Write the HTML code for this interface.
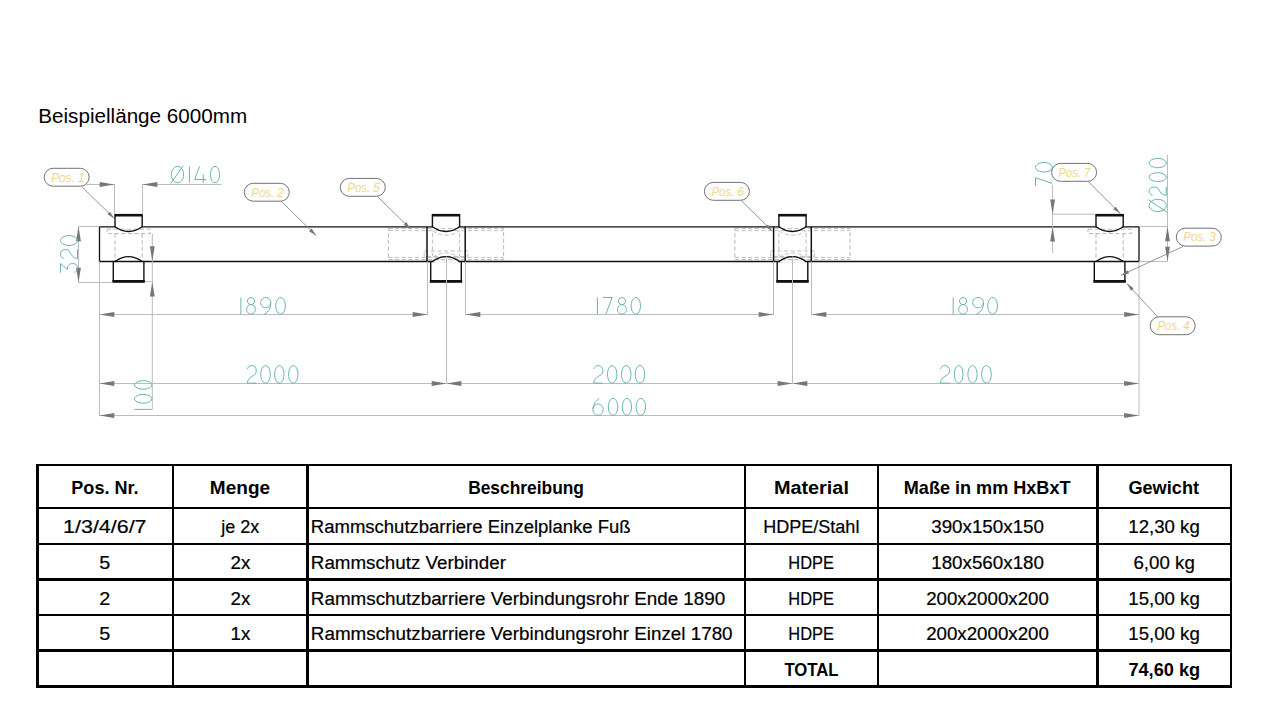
<!DOCTYPE html>
<html><head><meta charset="utf-8"><title>Rammschutzbarriere</title>
<style>
html,body{margin:0;padding:0;background:#fff;}
body{width:1273px;height:711px;overflow:hidden;position:relative;font-family:"Liberation Sans",sans-serif;}
svg{position:absolute;left:0;top:0;}
</style></head><body>
<svg width="1273" height="711" viewBox="0 0 1273 711">
<rect width="1273" height="711" fill="#fff"/>
<rect x="107.00" y="229.2" width="43.3" height="4.4" fill="none" stroke="#b0b0b0" stroke-width="0.9" stroke-dasharray="4.2,2.4"/><line x1="115.0" y1="233.6" x2="115.0" y2="261.5" stroke="#b0b0b0" stroke-width="0.9" stroke-dasharray="4.2,2.4"/><line x1="142.2" y1="233.6" x2="142.2" y2="261.5" stroke="#b0b0b0" stroke-width="0.9" stroke-dasharray="4.2,2.4"/><rect x="1088.00" y="229.2" width="43.3" height="4.4" fill="none" stroke="#b0b0b0" stroke-width="0.9" stroke-dasharray="4.2,2.4"/><line x1="1096.0" y1="233.6" x2="1096.0" y2="261.5" stroke="#b0b0b0" stroke-width="0.9" stroke-dasharray="4.2,2.4"/><line x1="1123.1999999999998" y1="233.6" x2="1123.1999999999998" y2="261.5" stroke="#b0b0b0" stroke-width="0.9" stroke-dasharray="4.2,2.4"/><rect x="388.40" y="228.4" width="115.2" height="31.2" fill="none" stroke="#b0b0b0" stroke-width="0.9" stroke-dasharray="4.2,2.4"/><line x1="388.4" y1="230.6" x2="503.6" y2="230.6" stroke="#b0b0b0" stroke-width="0.8" stroke-dasharray="4.2,2.4"/><line x1="388.4" y1="257.4" x2="503.6" y2="257.4" stroke="#b0b0b0" stroke-width="0.8" stroke-dasharray="4.2,2.4"/><rect x="424.20" y="251.0" width="43.6" height="5.4" fill="none" stroke="#b0b0b0" stroke-width="0.8" stroke-dasharray="4.2,2.4"/><line x1="432.4" y1="233" x2="432.4" y2="256" stroke="#b0b0b0" stroke-width="0.8" stroke-dasharray="4.2,2.4"/><line x1="459.6" y1="233" x2="459.6" y2="256" stroke="#b0b0b0" stroke-width="0.8" stroke-dasharray="4.2,2.4"/><path d="M432.40,230.8 Q446.00,239.8 459.60,230.8" fill="none" stroke="#b0b0b0" stroke-width="0.8" stroke-dasharray="4.2,2.4"/><path d="M432.40,257.5 Q446.00,248.5 459.60,257.5" fill="none" stroke="#b0b0b0" stroke-width="0.8" stroke-dasharray="4.2,2.4"/><rect x="734.90" y="228.4" width="115.2" height="31.2" fill="none" stroke="#b0b0b0" stroke-width="0.9" stroke-dasharray="4.2,2.4"/><line x1="734.9" y1="230.6" x2="850.1" y2="230.6" stroke="#b0b0b0" stroke-width="0.8" stroke-dasharray="4.2,2.4"/><line x1="734.9" y1="257.4" x2="850.1" y2="257.4" stroke="#b0b0b0" stroke-width="0.8" stroke-dasharray="4.2,2.4"/><rect x="770.70" y="251.0" width="43.6" height="5.4" fill="none" stroke="#b0b0b0" stroke-width="0.8" stroke-dasharray="4.2,2.4"/><line x1="778.9" y1="233" x2="778.9" y2="256" stroke="#b0b0b0" stroke-width="0.8" stroke-dasharray="4.2,2.4"/><line x1="806.1" y1="233" x2="806.1" y2="256" stroke="#b0b0b0" stroke-width="0.8" stroke-dasharray="4.2,2.4"/><path d="M778.90,230.8 Q792.50,239.8 806.10,230.8" fill="none" stroke="#b0b0b0" stroke-width="0.8" stroke-dasharray="4.2,2.4"/><path d="M778.90,257.5 Q792.50,248.5 806.10,257.5" fill="none" stroke="#b0b0b0" stroke-width="0.8" stroke-dasharray="4.2,2.4"/><path d="M99.5,226.8 L1139.0,226.8 L1139.0,261.5 L99.5,261.5 Z" fill="none" stroke="#111111" stroke-width="1.3"/><line x1="427.0" y1="226.8" x2="427.0" y2="261.5" stroke="#111111" stroke-width="1.5" /><line x1="465.2" y1="226.8" x2="465.2" y2="261.5" stroke="#111111" stroke-width="1.5" /><line x1="773.6" y1="226.8" x2="773.6" y2="261.5" stroke="#111111" stroke-width="1.5" /><line x1="811.3" y1="226.8" x2="811.3" y2="261.5" stroke="#111111" stroke-width="1.5" /><rect x="115.90" y="225.60000000000002" width="25.40" height="2.4" fill="#fff"/><rect x="433.30" y="225.60000000000002" width="25.40" height="2.4" fill="#fff"/><rect x="779.80" y="225.60000000000002" width="25.40" height="2.4" fill="#fff"/><rect x="1096.90" y="225.60000000000002" width="25.40" height="2.4" fill="#fff"/><rect x="433.60" y="260.3" width="24.80" height="2.4" fill="#fff"/><rect x="780.10" y="260.3" width="24.80" height="2.4" fill="#fff"/><path d="M115.00,226.8 L115.00,214.6 L142.20,214.6 L142.20,226.8 Q128.60,236.3 115.00,226.8" fill="none" stroke="#111111" stroke-width="1.4"/><rect x="114.70" y="213.9" width="27.80" height="2.6" fill="#111111"/><path d="M113.30,261.5 L113.30,281.4 L143.90,281.4 L143.90,261.5" fill="none" stroke="#111111" stroke-width="1.4"/><path d="M115.00,261.5 Q128.60,251.7 142.20,261.5" fill="none" stroke="#111111" stroke-width="1.4"/><rect x="112.40" y="280.0" width="32.40" height="2.8" fill="#111111"/><path d="M432.40,226.8 L432.40,214.6 L459.60,214.6 L459.60,226.8 Q446.00,236.3 432.40,226.8" fill="none" stroke="#111111" stroke-width="1.4"/><rect x="432.10" y="213.9" width="27.80" height="2.6" fill="#111111"/><path d="M430.70,261.5 L430.70,281.4 L461.30,281.4 L461.30,261.5" fill="none" stroke="#111111" stroke-width="1.4"/><path d="M432.40,261.5 Q446.00,251.7 459.60,261.5" fill="none" stroke="#111111" stroke-width="1.4"/><rect x="429.80" y="280.0" width="32.40" height="2.8" fill="#111111"/><path d="M778.90,226.8 L778.90,214.6 L806.10,214.6 L806.10,226.8 Q792.50,236.3 778.90,226.8" fill="none" stroke="#111111" stroke-width="1.4"/><rect x="778.60" y="213.9" width="27.80" height="2.6" fill="#111111"/><path d="M777.20,261.5 L777.20,281.4 L807.80,281.4 L807.80,261.5" fill="none" stroke="#111111" stroke-width="1.4"/><path d="M778.90,261.5 Q792.50,251.7 806.10,261.5" fill="none" stroke="#111111" stroke-width="1.4"/><rect x="776.30" y="280.0" width="32.40" height="2.8" fill="#111111"/><path d="M1096.00,226.8 L1096.00,214.6 L1123.20,214.6 L1123.20,226.8 Q1109.60,236.3 1096.00,226.8" fill="none" stroke="#111111" stroke-width="1.4"/><rect x="1095.70" y="213.9" width="27.80" height="2.6" fill="#111111"/><path d="M1094.30,261.5 L1094.30,281.4 L1124.90,281.4 L1124.90,261.5" fill="none" stroke="#111111" stroke-width="1.4"/><path d="M1096.00,261.5 Q1109.60,251.7 1123.20,261.5" fill="none" stroke="#111111" stroke-width="1.4"/><rect x="1093.40" y="280.0" width="32.40" height="2.8" fill="#111111"/><line x1="99.5" y1="261.5" x2="99.5" y2="416.0" stroke="#bcbcbc" stroke-width="1.0" /><line x1="1139.0" y1="261.5" x2="1139.0" y2="416.0" stroke="#bcbcbc" stroke-width="1.0" /><line x1="427.5" y1="261.5" x2="427.5" y2="315.0" stroke="#bcbcbc" stroke-width="1.0" /><line x1="465.5" y1="261.5" x2="465.5" y2="315.0" stroke="#bcbcbc" stroke-width="1.0" /><line x1="773.5" y1="261.5" x2="773.5" y2="315.0" stroke="#bcbcbc" stroke-width="1.0" /><line x1="811.5" y1="261.5" x2="811.5" y2="315.0" stroke="#bcbcbc" stroke-width="1.0" /><line x1="446.5" y1="256.5" x2="446.5" y2="383.5" stroke="#bcbcbc" stroke-width="1.0" /><line x1="792.5" y1="256.5" x2="792.5" y2="383.5" stroke="#bcbcbc" stroke-width="1.0" /><line x1="99.5" y1="314.5" x2="427.5" y2="314.5" stroke="#bcbcbc" stroke-width="1.0" /><polygon points="99.50,314.50 114.30,312.10 114.30,316.90" fill="#767676"/><polygon points="427.50,314.50 412.70,312.10 412.70,316.90" fill="#767676"/><line x1="465.5" y1="314.5" x2="773.5" y2="314.5" stroke="#bcbcbc" stroke-width="1.0" /><polygon points="465.50,314.50 480.30,312.10 480.30,316.90" fill="#767676"/><polygon points="773.50,314.50 758.70,312.10 758.70,316.90" fill="#767676"/><line x1="811.5" y1="314.5" x2="1139.0" y2="314.5" stroke="#bcbcbc" stroke-width="1.0" /><polygon points="811.50,314.50 826.30,312.10 826.30,316.90" fill="#767676"/><polygon points="1139.00,314.50 1124.20,312.10 1124.20,316.90" fill="#767676"/><line x1="99.5" y1="383.5" x2="446.5" y2="383.5" stroke="#bcbcbc" stroke-width="1.0" /><polygon points="99.50,383.50 114.30,381.10 114.30,385.90" fill="#767676"/><polygon points="446.50,383.50 431.70,381.10 431.70,385.90" fill="#767676"/><line x1="446.5" y1="383.5" x2="792.5" y2="383.5" stroke="#bcbcbc" stroke-width="1.0" /><polygon points="446.50,383.50 461.30,381.10 461.30,385.90" fill="#767676"/><polygon points="792.50,383.50 777.70,381.10 777.70,385.90" fill="#767676"/><line x1="792.5" y1="383.5" x2="1139.0" y2="383.5" stroke="#bcbcbc" stroke-width="1.0" /><polygon points="792.50,383.50 807.30,381.10 807.30,385.90" fill="#767676"/><polygon points="1139.00,383.50 1124.20,381.10 1124.20,385.90" fill="#767676"/><line x1="99.5" y1="415.5" x2="1139.0" y2="415.5" stroke="#bcbcbc" stroke-width="1.0" /><polygon points="99.50,415.50 114.30,413.10 114.30,417.90" fill="#767676"/><polygon points="1139.00,415.50 1124.20,413.10 1124.20,417.90" fill="#767676"/><line x1="114.5" y1="183.8" x2="114.5" y2="214.4" stroke="#bcbcbc" stroke-width="1.0" /><line x1="142.5" y1="183.8" x2="142.5" y2="214.4" stroke="#bcbcbc" stroke-width="1.0" /><line x1="86.5" y1="184.5" x2="114.5" y2="184.5" stroke="#bcbcbc" stroke-width="1.0" /><line x1="142.5" y1="184.5" x2="221.5" y2="184.5" stroke="#bcbcbc" stroke-width="1.0" /><polygon points="114.50,184.50 99.70,182.10 99.70,186.90" fill="#767676"/><polygon points="142.50,184.50 157.30,182.10 157.30,186.90" fill="#767676"/><line x1="78.5" y1="226.5" x2="99.5" y2="226.5" stroke="#bcbcbc" stroke-width="1.0" /><line x1="78.5" y1="282.5" x2="112.5" y2="282.5" stroke="#bcbcbc" stroke-width="1.0" /><line x1="78.5" y1="226.5" x2="78.5" y2="282.5" stroke="#bcbcbc" stroke-width="1.0" /><polygon points="78.50,226.50 76.10,241.30 80.90,241.30" fill="#767676"/><polygon points="78.50,282.50 76.10,267.70 80.90,267.70" fill="#767676"/><line x1="152.3" y1="233.7" x2="152.3" y2="409.6" stroke="#bcbcbc" stroke-width="1.0" /><line x1="145.0" y1="281.6" x2="152.3" y2="281.6" stroke="#bcbcbc" stroke-width="1.0" /><polygon points="152.30,261.00 149.90,246.20 154.70,246.20" fill="#767676"/><polygon points="152.30,281.80 149.90,296.60 154.70,296.60" fill="#767676"/><line x1="1052.6" y1="184.7" x2="1052.6" y2="253.0" stroke="#bcbcbc" stroke-width="1.0" /><line x1="1052.6" y1="214.2" x2="1095.5" y2="214.2" stroke="#bcbcbc" stroke-width="1.0" /><polygon points="1052.60,214.20 1050.20,199.40 1055.00,199.40" fill="#767676"/><polygon points="1052.60,226.80 1050.20,241.60 1055.00,241.60" fill="#767676"/><line x1="1167.5" y1="155.0" x2="1167.5" y2="261.5" stroke="#bcbcbc" stroke-width="1.0" /><line x1="1139.0" y1="226.5" x2="1167.5" y2="226.5" stroke="#bcbcbc" stroke-width="1.0" /><line x1="1139.0" y1="261.5" x2="1167.5" y2="261.5" stroke="#bcbcbc" stroke-width="1.0" /><polygon points="1167.50,226.50 1165.10,241.30 1169.90,241.30" fill="#767676"/><polygon points="1167.50,261.50 1165.10,246.70 1169.90,246.70" fill="#767676"/><g fill="none" stroke="#68b5ae" stroke-width="1.0"><path transform="matrix(0.12200,0,0,0.16400,171.40,166.40)" d="M50,0 A50,50 0 1 1 49.99,0 Z M-5,105 L96,-4" vector-effect="non-scaling-stroke"/><path transform="matrix(0.01000,0,0,0.16400,188.90,166.40)" d="M50,0 L50,100" vector-effect="non-scaling-stroke"/><path transform="matrix(0.11500,0,0,0.16400,194.70,166.40)" d="M43,0 L0,80 L100,80 M75,50 L75,100" vector-effect="non-scaling-stroke"/><path transform="matrix(0.09100,0,0,0.16400,210.50,166.40)" d="M50,0 A50,50 0 1 1 49.99,0 Z" vector-effect="non-scaling-stroke"/></g><g fill="none" stroke="#68b5ae" stroke-width="1.0"><path transform="matrix(0.01000,0,0,0.16600,240.40,297.50)" d="M50,0 L50,100" vector-effect="non-scaling-stroke"/><path transform="matrix(0.08800,0,0,0.16600,246.60,297.50)" d="M50,0 A40,21.5 0 1 1 49.99,0 Z M50,43 A50,28.5 0 1 1 49.99,43 Z" vector-effect="non-scaling-stroke"/><path transform="matrix(0.10000,0,0,0.16600,260.70,297.50)" d="M50,0 A50,31 0 1 1 49.99,0 Z M100,31 C100,62 84,86 36,100" vector-effect="non-scaling-stroke"/><path transform="matrix(0.09600,0,0,0.16600,275.80,297.50)" d="M50,0 A50,50 0 1 1 49.99,0 Z" vector-effect="non-scaling-stroke"/></g><g fill="none" stroke="#68b5ae" stroke-width="1.0"><path transform="matrix(0.01000,0,0,0.16600,596.90,297.50)" d="M50,0 L50,100" vector-effect="non-scaling-stroke"/><path transform="matrix(0.09100,0,0,0.16600,603.10,297.50)" d="M0,0 L100,0 L30,100" vector-effect="non-scaling-stroke"/><path transform="matrix(0.08900,0,0,0.16600,617.50,297.50)" d="M50,0 A40,21.5 0 1 1 49.99,0 Z M50,43 A50,28.5 0 1 1 49.99,43 Z" vector-effect="non-scaling-stroke"/><path transform="matrix(0.09400,0,0,0.16600,631.10,297.50)" d="M50,0 A50,50 0 1 1 49.99,0 Z" vector-effect="non-scaling-stroke"/></g><g fill="none" stroke="#68b5ae" stroke-width="1.0"><path transform="matrix(0.01000,0,0,0.16600,952.70,297.50)" d="M50,0 L50,100" vector-effect="non-scaling-stroke"/><path transform="matrix(0.08900,0,0,0.16600,958.60,297.50)" d="M50,0 A40,21.5 0 1 1 49.99,0 Z M50,43 A50,28.5 0 1 1 49.99,43 Z" vector-effect="non-scaling-stroke"/><path transform="matrix(0.10800,0,0,0.16600,972.70,297.50)" d="M50,0 A50,31 0 1 1 49.99,0 Z M100,31 C100,62 84,86 36,100" vector-effect="non-scaling-stroke"/><path transform="matrix(0.09700,0,0,0.16600,987.80,297.50)" d="M50,0 A50,50 0 1 1 49.99,0 Z" vector-effect="non-scaling-stroke"/></g><g fill="none" stroke="#68b5ae" stroke-width="1.0"><path transform="matrix(0.08900,0,0,0.17500,247.40,365.60)" d="M0,19 C8,5 28,0 52,0 C80,0 100,12 100,30 C100,48 78,54 48,62 C18,70 0,86 0,100 L100,100" vector-effect="non-scaling-stroke"/><path transform="matrix(0.09500,0,0,0.17500,260.80,365.60)" d="M50,0 A50,50 0 1 1 49.99,0 Z" vector-effect="non-scaling-stroke"/><path transform="matrix(0.09400,0,0,0.17500,274.60,365.60)" d="M50,0 A50,50 0 1 1 49.99,0 Z" vector-effect="non-scaling-stroke"/><path transform="matrix(0.09400,0,0,0.17500,288.60,365.60)" d="M50,0 A50,50 0 1 1 49.99,0 Z" vector-effect="non-scaling-stroke"/></g><g fill="none" stroke="#68b5ae" stroke-width="1.0"><path transform="matrix(0.09200,0,0,0.17500,593.70,365.60)" d="M0,19 C8,5 28,0 52,0 C80,0 100,12 100,30 C100,48 78,54 48,62 C18,70 0,86 0,100 L100,100" vector-effect="non-scaling-stroke"/><path transform="matrix(0.09400,0,0,0.17500,607.50,365.60)" d="M50,0 A50,50 0 1 1 49.99,0 Z" vector-effect="non-scaling-stroke"/><path transform="matrix(0.09500,0,0,0.17500,621.50,365.60)" d="M50,0 A50,50 0 1 1 49.99,0 Z" vector-effect="non-scaling-stroke"/><path transform="matrix(0.09400,0,0,0.17500,635.30,365.60)" d="M50,0 A50,50 0 1 1 49.99,0 Z" vector-effect="non-scaling-stroke"/></g><g fill="none" stroke="#68b5ae" stroke-width="1.0"><path transform="matrix(0.09200,0,0,0.17500,940.40,365.60)" d="M0,19 C8,5 28,0 52,0 C80,0 100,12 100,30 C100,48 78,54 48,62 C18,70 0,86 0,100 L100,100" vector-effect="non-scaling-stroke"/><path transform="matrix(0.08600,0,0,0.17500,954.40,365.60)" d="M50,0 A50,50 0 1 1 49.99,0 Z" vector-effect="non-scaling-stroke"/><path transform="matrix(0.09200,0,0,0.17500,967.90,365.60)" d="M50,0 A50,50 0 1 1 49.99,0 Z" vector-effect="non-scaling-stroke"/><path transform="matrix(0.09700,0,0,0.17500,981.60,365.60)" d="M50,0 A50,50 0 1 1 49.99,0 Z" vector-effect="non-scaling-stroke"/></g><g fill="none" stroke="#68b5ae" stroke-width="1.0"><path transform="matrix(0.10300,0,0,0.16900,592.90,398.40)" d="M63,0 C30,14 2,36 1,62 M50,33 A50,33.5 0 1 1 49.99,33 Z" vector-effect="non-scaling-stroke"/><path transform="matrix(0.09500,0,0,0.16900,608.30,398.40)" d="M50,0 A50,50 0 1 1 49.99,0 Z" vector-effect="non-scaling-stroke"/><path transform="matrix(0.09200,0,0,0.16900,622.30,398.40)" d="M50,0 A50,50 0 1 1 49.99,0 Z" vector-effect="non-scaling-stroke"/><path transform="matrix(0.09400,0,0,0.16900,636.10,398.40)" d="M50,0 A50,50 0 1 1 49.99,0 Z" vector-effect="non-scaling-stroke"/></g><g fill="none" stroke="#68b5ae" stroke-width="1.0"><path transform="matrix(0,-0.09200,0.17000,0,60.50,272.70)" d="M0,0 L100,0 L36,40 C78,37 100,56 100,72 C100,90 80,100 52,100 C28,100 8,93 0,82" vector-effect="non-scaling-stroke"/><path transform="matrix(0,-0.09100,0.17000,0,60.50,258.50)" d="M0,19 C8,5 28,0 52,0 C80,0 100,12 100,30 C100,48 78,54 48,62 C18,70 0,86 0,100 L100,100" vector-effect="non-scaling-stroke"/><path transform="matrix(0,-0.09800,0.17000,0,60.50,245.40)" d="M50,0 A50,50 0 1 1 49.99,0 Z" vector-effect="non-scaling-stroke"/></g><g fill="none" stroke="#68b5ae" stroke-width="1.0"><path transform="matrix(0,-0.01000,0.17300,0,134.60,409.90)" d="M50,0 L50,100" vector-effect="non-scaling-stroke"/><path transform="matrix(0,-0.08800,0.17300,0,134.60,403.20)" d="M50,0 A50,50 0 1 1 49.99,0 Z" vector-effect="non-scaling-stroke"/><path transform="matrix(0,-0.08500,0.17300,0,134.60,389.20)" d="M50,0 A50,50 0 1 1 49.99,0 Z" vector-effect="non-scaling-stroke"/></g><g fill="none" stroke="#68b5ae" stroke-width="1.0"><path transform="matrix(0,-0.08200,0.16700,0,1035.50,185.90)" d="M0,0 L100,0 L30,100" vector-effect="non-scaling-stroke"/><path transform="matrix(0,-0.09500,0.16700,0,1035.50,172.00)" d="M50,0 A50,50 0 1 1 49.99,0 Z" vector-effect="non-scaling-stroke"/></g><g fill="none" stroke="#68b5ae" stroke-width="1.0"><path transform="matrix(0,-0.12300,0.17200,0,1149.10,211.60)" d="M50,0 A50,50 0 1 1 49.99,0 Z M-5,105 L96,-4" vector-effect="non-scaling-stroke"/><path transform="matrix(0,-0.08300,0.17200,0,1149.10,195.30)" d="M0,19 C8,5 28,0 52,0 C80,0 100,12 100,30 C100,48 78,54 48,62 C18,70 0,86 0,100 L100,100" vector-effect="non-scaling-stroke"/><path transform="matrix(0,-0.08800,0.17200,0,1149.10,181.50)" d="M50,0 A50,50 0 1 1 49.99,0 Z" vector-effect="non-scaling-stroke"/><path transform="matrix(0,-0.09300,0.17200,0,1149.10,167.70)" d="M50,0 A50,50 0 1 1 49.99,0 Z" vector-effect="non-scaling-stroke"/></g><line x1="81.7" y1="186.6" x2="114.4" y2="218.5" stroke="#8a8a8a" stroke-width="0.9" /><polygon points="114.40,218.50 107.42,214.20 109.93,211.63" fill="#767676"/><line x1="281.5" y1="201.6" x2="316.1" y2="235.5" stroke="#8a8a8a" stroke-width="0.9" /><polygon points="316.10,235.50 309.13,231.19 311.65,228.62" fill="#767676"/><line x1="377.2" y1="196.4" x2="410.7" y2="228.9" stroke="#8a8a8a" stroke-width="0.9" /><polygon points="410.70,228.90 403.70,224.62 406.21,222.04" fill="#767676"/><line x1="741.2" y1="200.5" x2="772.3" y2="231.3" stroke="#8a8a8a" stroke-width="0.9" /><polygon points="772.30,231.30 765.35,226.95 767.88,224.39" fill="#767676"/><line x1="1088.1" y1="181.5" x2="1120.2" y2="213.6" stroke="#8a8a8a" stroke-width="0.9" /><polygon points="1120.20,213.60 1113.27,209.22 1115.82,206.67" fill="#767676"/><line x1="1183.0" y1="246.5" x2="1121.0" y2="275.3" stroke="#8a8a8a" stroke-width="0.9" /><polygon points="1121.00,275.30 1127.50,270.30 1129.01,273.56" fill="#767676"/><line x1="1157.6" y1="316.8" x2="1126.9" y2="283.6" stroke="#8a8a8a" stroke-width="0.9" /><polygon points="1126.90,283.60 1133.65,288.25 1131.01,290.70" fill="#767676"/><rect x="44.2" y="168.3" width="45.0" height="17.9" rx="9.0" ry="9.0" fill="#fff" stroke="#6a6a6a" stroke-width="0.95"/><text transform="translate(51.20,181.50) scale(0.9818,1)" x="0" y="0" font-family="Liberation Sans" font-weight="normal" font-style="italic" font-size="12.0" fill="#f2d68a"  >Pos. 1</text><rect x="244.3" y="183.3" width="45.0" height="17.9" rx="9.0" ry="9.0" fill="#fff" stroke="#6a6a6a" stroke-width="0.95"/><text transform="translate(251.30,196.50) scale(0.9529,1)" x="0" y="0" font-family="Liberation Sans" font-weight="normal" font-style="italic" font-size="12.0" fill="#f2d68a"  >Pos. 2</text><rect x="340.3" y="178.4" width="45.0" height="17.9" rx="9.0" ry="9.0" fill="#fff" stroke="#6a6a6a" stroke-width="0.95"/><text transform="translate(347.30,191.60) scale(0.9529,1)" x="0" y="0" font-family="Liberation Sans" font-weight="normal" font-style="italic" font-size="12.0" fill="#f2d68a"  >Pos. 5</text><rect x="704.4" y="182.4" width="45.0" height="17.9" rx="9.0" ry="9.0" fill="#fff" stroke="#6a6a6a" stroke-width="0.95"/><text transform="translate(711.40,195.60) scale(0.9529,1)" x="0" y="0" font-family="Liberation Sans" font-weight="normal" font-style="italic" font-size="12.0" fill="#f2d68a"  >Pos. 6</text><rect x="1051.6" y="163.4" width="45.0" height="17.9" rx="9.0" ry="9.0" fill="#fff" stroke="#6a6a6a" stroke-width="0.95"/><text transform="translate(1058.60,176.60) scale(0.9257,1)" x="0" y="0" font-family="Liberation Sans" font-weight="normal" font-style="italic" font-size="12.0" fill="#f2d68a"  >Pos. 7</text><rect x="1176.3" y="228.2" width="45.0" height="17.9" rx="9.0" ry="9.0" fill="#fff" stroke="#6a6a6a" stroke-width="0.95"/><text transform="translate(1183.30,241.40) scale(0.9529,1)" x="0" y="0" font-family="Liberation Sans" font-weight="normal" font-style="italic" font-size="12.0" fill="#f2d68a"  >Pos. 3</text><rect x="1150.2" y="316.8" width="45.0" height="17.9" rx="9.0" ry="9.0" fill="#fff" stroke="#6a6a6a" stroke-width="0.95"/><text transform="translate(1157.20,330.00) scale(0.9529,1)" x="0" y="0" font-family="Liberation Sans" font-weight="normal" font-style="italic" font-size="12.0" fill="#f2d68a"  >Pos. 4</text><text transform="translate(38.20,122.80) scale(1.0034,1)" x="0" y="0" font-family="Liberation Sans" font-weight="normal" font-style="normal" font-size="20.6" fill="#000"  >Beispiellänge 6000mm</text>
<rect x="36" y="464" width="1196" height="2" fill="#000"/><rect x="36" y="507" width="1196" height="2" fill="#000"/><rect x="36" y="543" width="1196" height="2" fill="#000"/><rect x="36" y="578" width="1196" height="3" fill="#000"/><rect x="36" y="614" width="1196" height="2" fill="#000"/><rect x="36" y="649" width="1196" height="3" fill="#000"/><rect x="36" y="685" width="1196" height="3" fill="#000"/><rect x="36" y="464" width="3" height="224" fill="#000"/><rect x="172" y="464" width="2" height="224" fill="#000"/><rect x="306" y="464" width="3" height="224" fill="#000"/><rect x="744" y="464" width="2" height="224" fill="#000"/><rect x="877" y="464" width="2" height="224" fill="#000"/><rect x="1096" y="464" width="3" height="224" fill="#000"/><rect x="1230" y="464" width="2" height="224" fill="#000"/><text transform="translate(71.31,494.00) scale(0.9924,1)" x="0" y="0" font-family="Liberation Sans" font-weight="bold" font-style="normal" font-size="18.2" fill="#000" stroke="#000" stroke-width="0.0" >Pos. Nr.</text><text transform="translate(209.86,494.00) scale(1.0446,1)" x="0" y="0" font-family="Liberation Sans" font-weight="bold" font-style="normal" font-size="18.2" fill="#000" stroke="#000" stroke-width="0.0" >Menge</text><text transform="translate(468.15,494.00) scale(0.9550,1)" x="0" y="0" font-family="Liberation Sans" font-weight="bold" font-style="normal" font-size="18.2" fill="#000" stroke="#000" stroke-width="0.0" >Beschreibung</text><text transform="translate(773.91,494.00) scale(1.0910,1)" x="0" y="0" font-family="Liberation Sans" font-weight="bold" font-style="normal" font-size="18.2" fill="#000" stroke="#000" stroke-width="0.0" >Material</text><text transform="translate(903.81,494.00) scale(0.9940,1)" x="0" y="0" font-family="Liberation Sans" font-weight="bold" font-style="normal" font-size="18.2" fill="#000" stroke="#000" stroke-width="0.0" >Maße in mm HxBxT</text><text transform="translate(1128.40,494.00) scale(0.9986,1)" x="0" y="0" font-family="Liberation Sans" font-weight="bold" font-style="normal" font-size="18.2" fill="#000" stroke="#000" stroke-width="0.0" >Gewicht</text><text transform="translate(63.08,533.20) scale(1.2194,1)" x="0" y="0" font-family="Liberation Sans" font-weight="normal" font-style="normal" font-size="17.6" fill="#000" stroke="#000" stroke-width="0.2" >1/3/4/6/7</text><text transform="translate(221.32,533.20) scale(1.0237,1)" x="0" y="0" font-family="Liberation Sans" font-weight="normal" font-style="normal" font-size="17.6" fill="#000" stroke="#000" stroke-width="0.2" >je 2x</text><text transform="translate(310.85,533.20) scale(1.0521,1)" x="0" y="0" font-family="Liberation Sans" font-weight="normal" font-style="normal" font-size="17.6" fill="#000" stroke="#000" stroke-width="0.2" >Rammschutzbarriere Einzelplanke Fuß</text><text transform="translate(763.18,533.20) scale(1.0250,1)" x="0" y="0" font-family="Liberation Sans" font-weight="normal" font-style="normal" font-size="17.6" fill="#000" stroke="#000" stroke-width="0.2" >HDPE/Stahl</text><text transform="translate(931.23,533.20) scale(1.0673,1)" x="0" y="0" font-family="Liberation Sans" font-weight="normal" font-style="normal" font-size="17.6" fill="#000" stroke="#000" stroke-width="0.2" >390x150x150</text><text transform="translate(1128.34,533.20) scale(1.0591,1)" x="0" y="0" font-family="Liberation Sans" font-weight="normal" font-style="normal" font-size="17.6" fill="#000" stroke="#000" stroke-width="0.2" >12,30 kg</text><text transform="translate(99.28,569.20) scale(1.1250,1)" x="0" y="0" font-family="Liberation Sans" font-weight="normal" font-style="normal" font-size="17.6" fill="#000" stroke="#000" stroke-width="0.2" >5</text><text transform="translate(230.54,569.20) scale(1.0647,1)" x="0" y="0" font-family="Liberation Sans" font-weight="normal" font-style="normal" font-size="17.6" fill="#000" stroke="#000" stroke-width="0.2" >2x</text><text transform="translate(310.83,569.20) scale(1.0676,1)" x="0" y="0" font-family="Liberation Sans" font-weight="normal" font-style="normal" font-size="17.6" fill="#000" stroke="#000" stroke-width="0.2" >Rammschutz Verbinder</text><text transform="translate(788.27,569.20) scale(0.9333,1)" x="0" y="0" font-family="Liberation Sans" font-weight="normal" font-style="normal" font-size="17.6" fill="#000" stroke="#000" stroke-width="0.2" >HDPE</text><text transform="translate(931.23,569.20) scale(1.0673,1)" x="0" y="0" font-family="Liberation Sans" font-weight="normal" font-style="normal" font-size="17.6" fill="#000" stroke="#000" stroke-width="0.2" >180x560x180</text><text transform="translate(1133.44,569.20) scale(1.0643,1)" x="0" y="0" font-family="Liberation Sans" font-weight="normal" font-style="normal" font-size="17.6" fill="#000" stroke="#000" stroke-width="0.2" >6,00 kg</text><text transform="translate(99.28,604.60) scale(1.1250,1)" x="0" y="0" font-family="Liberation Sans" font-weight="normal" font-style="normal" font-size="17.6" fill="#000" stroke="#000" stroke-width="0.2" >2</text><text transform="translate(230.54,604.60) scale(1.0647,1)" x="0" y="0" font-family="Liberation Sans" font-weight="normal" font-style="normal" font-size="17.6" fill="#000" stroke="#000" stroke-width="0.2" >2x</text><text transform="translate(310.83,604.60) scale(1.0702,1)" x="0" y="0" font-family="Liberation Sans" font-weight="normal" font-style="normal" font-size="17.6" fill="#000" stroke="#000" stroke-width="0.2" >Rammschutzbarriere Verbindungsrohr Ende 1890</text><text transform="translate(788.27,604.60) scale(0.9333,1)" x="0" y="0" font-family="Liberation Sans" font-weight="normal" font-style="normal" font-size="17.6" fill="#000" stroke="#000" stroke-width="0.2" >HDPE</text><text transform="translate(926.14,604.60) scale(1.0632,1)" x="0" y="0" font-family="Liberation Sans" font-weight="normal" font-style="normal" font-size="17.6" fill="#000" stroke="#000" stroke-width="0.2" >200x2000x200</text><text transform="translate(1128.34,604.60) scale(1.0591,1)" x="0" y="0" font-family="Liberation Sans" font-weight="normal" font-style="normal" font-size="17.6" fill="#000" stroke="#000" stroke-width="0.2" >15,00 kg</text><text transform="translate(99.28,640.00) scale(1.1250,1)" x="0" y="0" font-family="Liberation Sans" font-weight="normal" font-style="normal" font-size="17.6" fill="#000" stroke="#000" stroke-width="0.2" >5</text><text transform="translate(230.54,640.00) scale(1.0647,1)" x="0" y="0" font-family="Liberation Sans" font-weight="normal" font-style="normal" font-size="17.6" fill="#000" stroke="#000" stroke-width="0.2" >1x</text><text transform="translate(310.83,640.00) scale(1.0705,1)" x="0" y="0" font-family="Liberation Sans" font-weight="normal" font-style="normal" font-size="17.6" fill="#000" stroke="#000" stroke-width="0.2" >Rammschutzbarriere Verbindungsrohr Einzel 1780</text><text transform="translate(788.27,640.00) scale(0.9333,1)" x="0" y="0" font-family="Liberation Sans" font-weight="normal" font-style="normal" font-size="17.6" fill="#000" stroke="#000" stroke-width="0.2" >HDPE</text><text transform="translate(926.14,640.00) scale(1.0632,1)" x="0" y="0" font-family="Liberation Sans" font-weight="normal" font-style="normal" font-size="17.6" fill="#000" stroke="#000" stroke-width="0.2" >200x2000x200</text><text transform="translate(1128.34,640.00) scale(1.0591,1)" x="0" y="0" font-family="Liberation Sans" font-weight="normal" font-style="normal" font-size="17.6" fill="#000" stroke="#000" stroke-width="0.2" >15,00 kg</text><text transform="translate(784.40,676.00) scale(0.9186,1)" x="0" y="0" font-family="Liberation Sans" font-weight="bold" font-style="normal" font-size="18.2" fill="#000" stroke="#000" stroke-width="0.0" >TOTAL</text><text transform="translate(1128.40,676.00) scale(0.9986,1)" x="0" y="0" font-family="Liberation Sans" font-weight="bold" font-style="normal" font-size="18.2" fill="#000" stroke="#000" stroke-width="0.0" >74,60 kg</text>
</svg>
</body></html>
